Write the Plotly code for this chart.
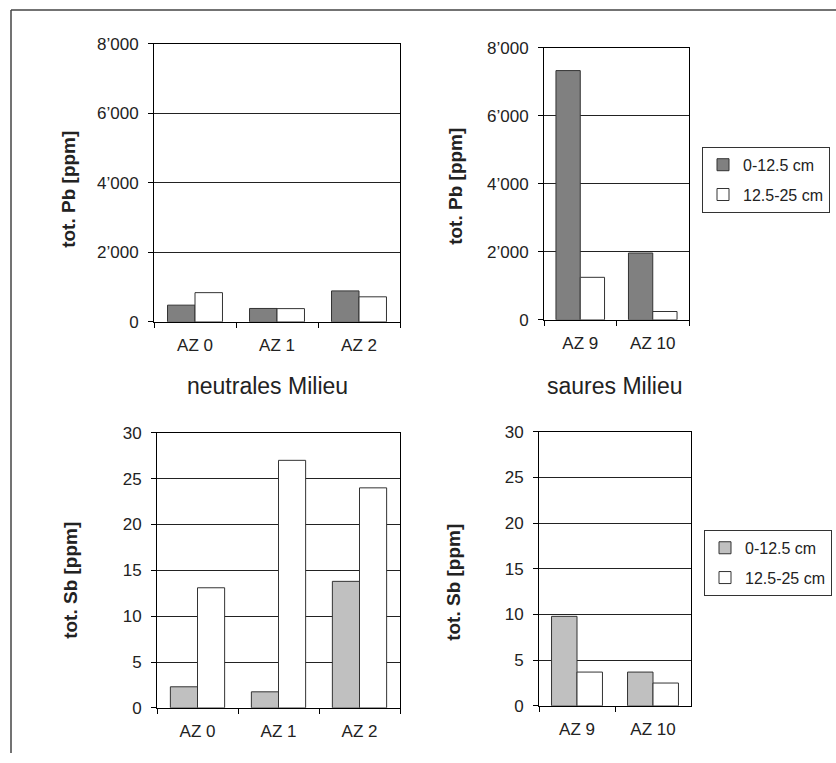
import plotly.graph_objects as go

W, H = 836, 763

# ---- data ----
cats_neutral = ["AZ 0", "AZ 1", "AZ 2"]
cats_acid = ["AZ 9", "AZ 10"]
series_names = ["0-12.5 cm", "12.5-25 cm"]

pb_neutral_top = [480, 385, 890]
pb_neutral_sub = [840, 380, 720]
pb_acid_top = [7330, 1965]
pb_acid_sub = [1250, 245]

sb_neutral_top = [2.3, 1.75, 13.8]
sb_neutral_sub = [13.1, 27.0, 24.0]
sb_acid_top = [9.8, 3.7]
sb_acid_sub = [3.7, 2.5]

pb_tickvals = [0, 2000, 4000, 6000, 8000]
pb_ticktext = ["0", "2\u2019000", "4\u2019000", "6\u2019000", "8\u2019000"]
sb_tickvals = [0, 5, 10, 15, 20, 25, 30]
sb_ticktext = ["0", "5", "10", "15", "20", "25", "30"]

FONT = "Liberation Sans, Arial, sans-serif"
TXT = "#222222"
DARK = "#808080"
LIGHT = "#c0c0c0"
EDGE = "#333333"


def Y(y):
    # compensate for the vertical offset/scale seen in the rendered page
    return (y - 8.2) / 0.975


def xd(a, b):
    return [a / W, b / W]


def yd(top, bottom):
    return [1 - Y(bottom) / H, 1 - Y(top) / H]


fig = go.Figure()

panels = [
    ("x", "y", cats_neutral, pb_neutral_top, pb_neutral_sub, DARK, False, "legend", "p"),
    ("x2", "y2", cats_acid, pb_acid_top, pb_acid_sub, DARK, True, "legend", "p"),
    ("x3", "y3", cats_neutral, sb_neutral_top, sb_neutral_sub, LIGHT, False, "legend2", "s"),
    ("x4", "y4", cats_acid, sb_acid_top, sb_acid_sub, LIGHT, True, "legend2", "s"),
]

for xa, ya, cats, top, sub, col, sl, lg, grp in panels:
    fig.add_trace(go.Bar(x=cats, y=top, name=series_names[0], xaxis=xa, yaxis=ya,
                         marker=dict(color=col, line=dict(color=EDGE, width=1)),
                         showlegend=sl, legend=lg, legendgroup=grp + "a", offsetgroup="a"))
    fig.add_trace(go.Bar(x=cats, y=sub, name=series_names[1], xaxis=xa, yaxis=ya,
                         marker=dict(color="#ffffff", line=dict(color=EDGE, width=1)),
                         showlegend=sl, legend=lg, legendgroup=grp + "b", offsetgroup="b"))

tickfont = dict(family=FONT, size=17, color=TXT)


def xaxis(domain, anchor):
    return dict(domain=domain, anchor=anchor, type="category",
                showline=True, linecolor="#000", linewidth=1, mirror=True,
                ticks="outside", tickson="boundaries", ticklen=5, tickcolor="#000",
                ticklabelstandoff=8,
                tickfont=tickfont, showgrid=False, fixedrange=True)


def yaxis(domain, anchor, rng, tv, tt):
    return dict(domain=domain, anchor=anchor, range=rng, tickvals=tv, ticktext=tt,
                showline=True, linecolor="#000", linewidth=1, mirror=True,
                ticks="outside", ticklen=5, tickcolor="#000", ticklabelstandoff=6,
                showgrid=True, gridcolor="#222", gridwidth=1,
                tickfont=tickfont, zeroline=False, fixedrange=True)


legend_common = dict(xanchor="left", yanchor="top",
                     bordercolor="#333", borderwidth=1, bgcolor="white",
                     font=dict(family=FONT, size=16, color=TXT), traceorder="grouped",
                     tracegroupgap=6, itemwidth=30)

fig.update_layout(
    width=W, height=H,
    margin=dict(l=0, r=0, t=0, b=0),
    paper_bgcolor="white", plot_bgcolor="white",
    barmode="group", bargap=0.33, bargroupgap=0,
    font=dict(family=FONT, color=TXT),
    xaxis=xaxis(xd(154, 400), "y"),
    yaxis=yaxis(yd(43, 321), "x", [0, 8000], pb_tickvals, pb_ticktext),
    xaxis2=xaxis(xd(544, 689), "y2"),
    yaxis2=yaxis(yd(47, 319), "x2", [0, 8000], pb_tickvals, pb_ticktext),
    xaxis3=xaxis(xd(157, 400), "y3"),
    yaxis3=yaxis(yd(432, 707), "x3", [0, 30], sb_tickvals, sb_ticktext),
    xaxis4=xaxis(xd(539, 691), "y4"),
    yaxis4=yaxis(yd(431, 705), "x4", [0, 30], sb_tickvals, sb_ticktext),
    legend=dict(x=702 / W, y=1 - Y(146) / H, **legend_common),
    legend2=dict(x=704 / W, y=1 - Y(529) / H, **legend_common),
)

# panel titles
for txt, x, y in [("neutrales Milieu", 267, 385), ("saures Milieu", 615, 385)]:
    fig.add_annotation(text=txt, x=x / W, y=1 - Y(y) / H, xref="paper", yref="paper",
                       showarrow=False, xanchor="center", yanchor="middle",
                       font=dict(family=FONT, size=23, color=TXT))

# y axis titles
for txt, x, y in [("tot. Pb [ppm]", 69, 189), ("tot. Pb [ppm]", 456, 185),
                  ("tot. Sb [ppm]", 71, 580), ("tot. Sb [ppm]", 454, 582)]:
    fig.add_annotation(text="<b>" + txt + "</b>", x=x / W, y=1 - Y(y) / H,
                       xref="paper", yref="paper", showarrow=False, textangle=-90,
                       xanchor="center", yanchor="middle",
                       font=dict(family=FONT, size=19, color=TXT))

# outer frame (top and left edges)
fig.add_shape(type="line", xref="paper", yref="paper", x0=11 / W, x1=1,
              y0=1 - 1 / H, y1=1 - 1 / H, line=dict(color="#444", width=1.5))
fig.add_shape(type="line", xref="paper", yref="paper", x0=11 / W, x1=11 / W,
              y0=1 - 1 / H, y1=0, line=dict(color="#444", width=1.5))

fig.write_html("out.html")
